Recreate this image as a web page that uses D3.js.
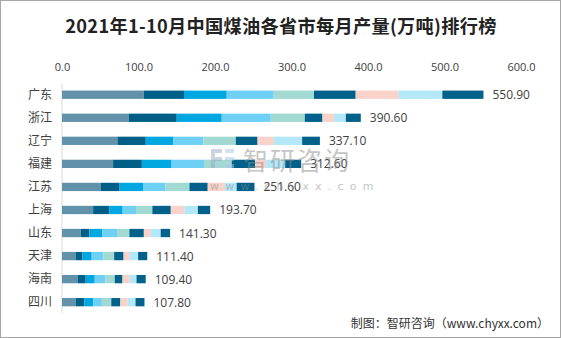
<!DOCTYPE html>
<html><head><meta charset="utf-8">
<script src="https://cdn.jsdelivr.net/npm/d3@7"></script>
<style>
html,body{margin:0;padding:0;background:#fff;}
svg{display:block;}
</style></head>
<body>
<svg id="c" width="561" height="338"></svg>
<script>
const provinces = ["广东","浙江","辽宁","福建","江苏","上海","山东","天津","海南","四川"];
const totals = [550.90,390.60,337.10,312.60,251.60,193.70,141.30,111.40,109.40,107.80];
const seriesNames = ["1-2月","3月","4月","5月","6月","7月","8月","9月","10月"];
const m1_2 = [106.8,87.6,72.5,66.8,50.5,40.7,24.7,17.7,20.9,18.1];
const m3   = [52.7,62.4,37.0,37.6,24.8,21.0,11.0,8.7,10.1,11.0];
const m4   = [55.8,58.8,35.7,38.9,31.3,17.6,17.2,12.4,11.8,11.9];
const m5   = [61.4,64.1,39.8,42.3,28.7,17.4,19.0,15.3,14.0,11.1];
const m6   = [52.7,44.5,42.2,36.3,31.3,21.4,16.2,14.1,12.2,12.3];
const m7   = [54.5,23.1,28.4,30.5,23.9,24.1,18.9,12.3,10.1,11.9];
const m8   = [56.2,15.2,21.3,14.4,22.7,17.8,8.8,7.9,9.5,9.6];
const m9   = [57.1,15.3,37.0,24.9,15.1,17.6,13.2,11.1,8.8,10.2];
const m10  = [53.7,19.6,23.2,20.9,23.3,16.1,12.3,11.9,12.0,11.7];
const xTicks = [0,100,200,300,400,500,600];

const colors = ["#6192a9","#005f86","#00a7e1","#6fd0f6","#a2d9d3","#00628a","#f9d2ca","#b4e8f9","#00628a"];
const seriesVals = [m1_2,m3,m4,m5,m6,m7,m8,m9,m10];

const svg = d3.select("#c");
const W = 561, H = 338;
svg.append("rect").attr("x",0.5).attr("y",0.5).attr("width",W-1).attr("height",H-1)
  .attr("fill","#fff").attr("stroke","#a6a6a6");

svg.append("text").attr("x",281).attr("y",33).attr("text-anchor","middle")
  .attr("font-family","'Noto Sans CJK SC','Noto Sans',sans-serif").attr("font-weight","bold")
  .attr("font-size",18.2).attr("letter-spacing",0.3).attr("fill","#222")
  .text("2021年1-10月中国煤油各省市每月产量(万吨)排行榜");

const x = d3.scaleLinear().domain([0,600]).range([62,521]);
const y = d3.scaleBand().domain(provinces).range([83.2,313.7]).paddingInner(0.64).paddingOuter(0.32);

const xAxis = d3.axisTop(x).tickValues(xTicks).tickFormat(d3.format(".1f")).tickSize(0).tickPadding(0);
const gx = svg.append("g").attr("transform","translate(0,71)").call(xAxis);
gx.select(".domain").remove();
gx.selectAll("text").attr("font-family","'Open Sans','DejaVu Sans',sans-serif").attr("font-size",11).attr("fill","#404040");

const yAxis = d3.axisLeft(y).tickSize(0).tickPadding(10);
const gy = svg.append("g").attr("transform","translate(62,0)").call(yAxis);
gy.select(".domain").attr("stroke","#d9d9d9").attr("d","M0,84V313");
gy.selectAll("text").attr("font-family","'Noto Sans CJK SC',sans-serif").attr("font-size",12).attr("fill","#404040");

const rows = provinces.map((p,i)=>{const o={p}; seriesNames.forEach((s,j)=>o[s]=seriesVals[j][i]); return o;});
const stack = d3.stack().keys(seriesNames)(rows);
svg.append("g").selectAll("g").data(stack).join("g").attr("fill",(d,i)=>colors[i])
  .selectAll("rect").data(d=>d).join("rect")
  .attr("x",d=>x(d[0])).attr("width",d=>x(d[1])-x(d[0]))
  .attr("y",d=>y(d.data.p)).attr("height",y.bandwidth());

svg.append("g").selectAll("text").data(provinces).join("text")
  .attr("x",(d,i)=>x(totals[i])+9).attr("y",d=>y(d)+y.bandwidth()/2+4.5)
  .attr("font-family","'Open Sans','DejaVu Sans',sans-serif").attr("font-size",12).attr("fill","#404040")
  .text((d,i)=>d3.format(".2f")(totals[i]));

// watermark
const wm = svg.append("g").attr("opacity",0.5);
wm.append("rect").attr("x",211).attr("y",149).attr("width",11).attr("height",4).attr("fill","#9aa9c4");
wm.append("rect").attr("x",211).attr("y",149).attr("width",4).attr("height",19).attr("fill","#9aa9c4");
wm.append("rect").attr("x",215).attr("y",157).attr("width",7).attr("height",4).attr("fill","#9aa9c4");
wm.append("rect").attr("x",225).attr("y",149).attr("width",9).attr("height",4).attr("fill","#a9c6e6");
wm.append("rect").attr("x",225).attr("y",157).attr("width",9).attr("height",4).attr("fill","#a9c6e6");
wm.append("rect").attr("x",225).attr("y",164).attr("width",9).attr("height",4).attr("fill","#a9c6e6");
wm.append("text").attr("x",243).attr("y",170).attr("font-family","'Noto Sans CJK SC',sans-serif")
  .attr("font-size",25).attr("fill","#8c8c8c").attr("letter-spacing",2).text("智研咨询");
wm.append("text").attr("x",210).attr("y",190).attr("font-family","'DejaVu Sans',sans-serif")
  .attr("font-size",11).attr("fill","#8c8c8c").attr("letter-spacing",6.2).text("www.chyxx.com");

svg.append("text").attr("x",549).attr("y",328).attr("text-anchor","end")
  .attr("font-family","'Noto Sans CJK SC',sans-serif").attr("font-size",12).attr("fill","#333")
  .text("制图：智研咨询（www.chyxx.com）");
</script>
</body></html>
